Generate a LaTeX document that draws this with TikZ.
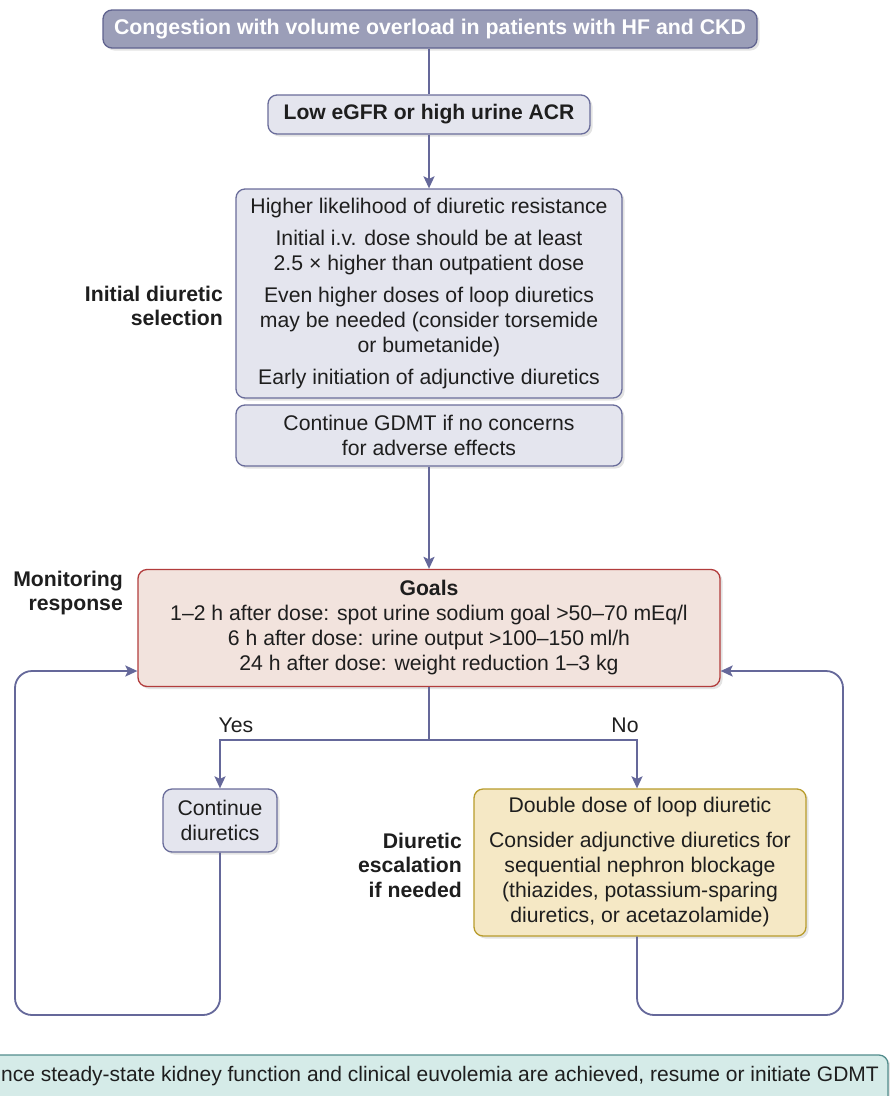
\documentclass[tikz,border=0pt]{standalone}
\usepackage{fontspec}
\setmainfont{Liberation Sans}
\usetikzlibrary{arrows.meta,shadows,calc}
\definecolor{titlefill}{HTML}{9B9EB8}
\definecolor{titleedge}{HTML}{60638F}
\definecolor{boxfill}{HTML}{E4E5EE}
\definecolor{boxedge}{HTML}{6A6D9B}
\definecolor{linecol}{HTML}{65689A}
\definecolor{goalfill}{HTML}{F2E3DD}
\definecolor{goaledge}{HTML}{B23C3C}
\definecolor{yelfill}{HTML}{F5E8C5}
\definecolor{yeledge}{HTML}{B89C2C}
\definecolor{botfill}{HTML}{D5EBE8}
\definecolor{botedge}{HTML}{528C8C}
\definecolor{txt}{HTML}{1E1E1E}
\tikzset{
  shad/.style={drop shadow={opacity=0.22, shadow xshift=2.5pt, shadow yshift=-2.5pt}},
  basebox/.style={shape=rectangle, rounded corners=9pt, line width=1.3pt, align=center,
     inner sep=0pt, text=txt, font=\fontsize{21.2}{25}\selectfont, shad},
  graybox/.style={basebox, draw=boxedge, fill=boxfill},
  titlebox/.style={basebox, draw=titleedge, fill=titlefill, text=white, font=\bfseries\fontsize{21.3}{25}\selectfont},
  goalbox/.style={basebox, draw=goaledge, fill=goalfill},
  yelbox/.style={basebox, draw=yeledge, fill=yelfill},
  sidelab/.style={align=right, anchor=east, text=txt, font=\bfseries\fontsize{21.2}{24.5}\selectfont, inner sep=0pt},
  branchlab/.style={text=txt, font=\fontsize{21.2}{24}\selectfont, inner sep=0pt},
  conn/.style={draw=linecol, line width=1.8pt},
  arr/.style={conn, -{Stealth[length=12pt, width=11pt, inset=2.5pt]}},
}
\begin{document}
\begin{tikzpicture}[x=1pt, y=-1pt]
\useasboundingbox (0,0) rectangle (890,1096);
\fill[white] (0,0) rectangle (890,1096);
\clip (0,0) rectangle (890,1096);

% boxes
\node[titlebox, minimum width=654pt, minimum height=38pt] (title) at (430,29)
  {Congestion with volume overload in patients with HF and CKD};
\node[graybox, minimum width=322pt, minimum height=39pt, font=\bfseries\fontsize{21.1}{25}\selectfont] (low) at (429,114.5)
  {Low eGFR or high urine ACR};
\node[graybox, minimum width=386pt, minimum height=209pt] (big) at (429,293.5)
  {Higher likelihood of diuretic resistance\\[7pt]
   Initial i.v. dose should be at least\\
   2.5 × higher than outpatient dose\\[7pt]
   Even higher doses of loop diuretics\\
   may be needed (consider torsemide\\
   or bumetanide)\\[7pt]
   Early initiation of adjunctive diuretics};
\node[graybox, minimum width=386pt, minimum height=61pt] (gdmt) at (429,435.5)
  {Continue GDMT if no concerns\\ for adverse effects};
\node[goalbox, minimum width=582pt, minimum height=117pt] (goals) at (429,628)
  {\textbf{Goals}\\
   1–2 h after dose: spot urine sodium goal >50–70 mEq/l\\
   6 h after dose: urine output >100–150 ml/h\\
   24 h after dose: weight reduction 1–3 kg};
\node[graybox, minimum width=114pt, minimum height=63pt] (cont) at (220,820.5)
  {Continue\\ diuretics};
\node[yelbox, minimum width=332pt, minimum height=147pt] (yel) at (640,862.5)
  {Double dose of loop diuretic\\[10pt]
   Consider adjunctive diuretics for\\
   sequential nephron blockage\\
   (thiazides, potassium-sparing\\
   diuretics, or acetazolamide)};

% side labels
\node[sidelab] (lab1) at (223,306) {Initial diuretic\\ selection};
\node[sidelab] (lab2) at (123,593) {Monitoring\\ response};
\node[sidelab] (lab3) at (462,865) {Diuretic\\ escalation\\ if needed};

% connectors
\draw[conn] (low.north |- title.south) -- (low.north);
\draw[arr] (low.south) -- (big.north);
\draw[arr] (gdmt.south) -- (goals.north);

\coordinate (split) at (429,740);
\coordinate (yescorner) at (220,740);
\coordinate (nocorner) at (637,740);
\draw[conn] (goals.south) -- (split);
\draw[arr] (split) -- (yescorner) -- (cont.north);
\draw[arr] (split) -- (nocorner) -- (nocorner |- yel.north);
\node[branchlab] (yes) at (236,725) {Yes};
\node[branchlab] (no) at (625,725) {No};

\coordinate (lbot) at (220,1015);
\coordinate (lleft) at (15,1015);
\coordinate (ltop) at (15,671);
\draw[arr, rounded corners=17pt] (cont.south) -- (lbot) -- (lleft) -- (ltop) -- (ltop -| goals.west);
\coordinate (ybot) at (637,1015);
\coordinate (rright) at (843,1015);
\coordinate (rtop) at (843,671);
\draw[arr, rounded corners=17pt] (ybot |- yel.south) -- (ybot) -- (rright) -- (rtop) -- (rtop -| goals.east);

% bottom banner
\draw[draw=botedge, fill=botfill, line width=1.3pt, rounded corners=9pt, shad] (-30,1055) rectangle (888,1130);
\node[anchor=west, inner sep=0pt, text=txt, font=\fontsize{21}{24}\selectfont] (bottom) at (1,1076)
  {nce steady-state kidney function and clinical euvolemia are achieved, resume or initiate GDMT};
\end{tikzpicture}
\end{document}
